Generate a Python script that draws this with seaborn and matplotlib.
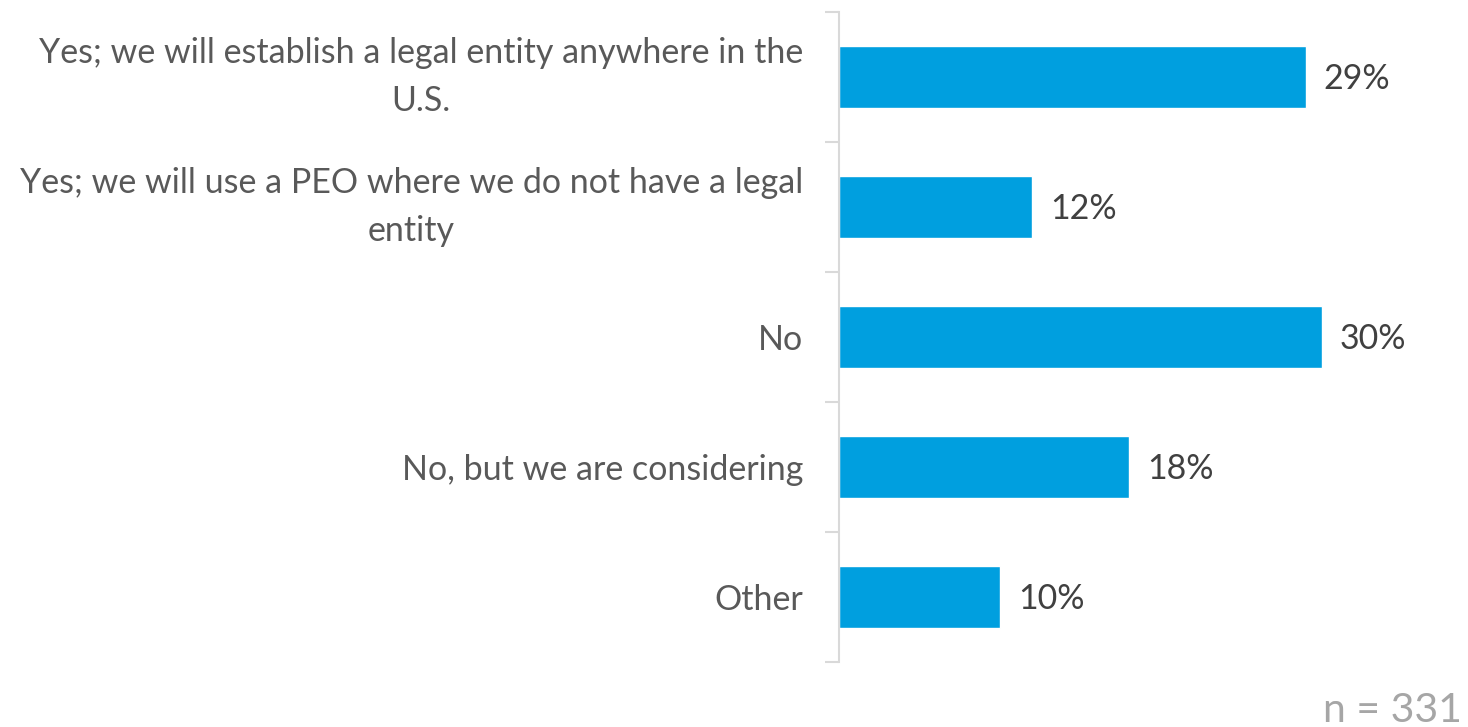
import matplotlib
matplotlib.use("Agg")
import matplotlib.pyplot as plt
import matplotlib.transforms as mtransforms
import seaborn as sns
import pandas as pd

categories = [
    "Yes; we will establish a legal entity anywhere in the\nU.S.",
    "Yes; we will use a PEO where we do not have a legal\nentity",
    "No",
    "No, but we are considering",
    "Other",
]
values = [29, 12, 30, 18, 10]
value_labels = ["29%", "12%", "30%", "18%", "10%"]
sample_note = "n = 331"

df = pd.DataFrame({"answer": categories, "share": values})

sns.set_theme(style="white")
plt.rcParams["font.family"] = ["Lato", "DejaVu Sans"]

W, H = 1468, 727
fig = plt.figure(figsize=(W / 100, H / 100), dpi=100)
ax = fig.add_axes([839 / W, 1 - 662 / H, (W - 839) / W, 650 / H])

sns.barplot(data=df, x="share", y="answer", color="#009FDF", saturation=1,
            width=0.47, ax=ax, orient="h")

ax.set_xlim(0, (W - 840) / 16.07)
ax.set_ylim(len(categories) - 0.5, -0.5)
ax.set_xlabel("")
ax.set_ylabel("")
ax.set_xticks([])

for s in ["top", "right", "bottom"]:
    ax.spines[s].set_visible(False)
ax.spines["left"].set_color("#D9D9D9")
ax.spines["left"].set_linewidth(1.5)

# category labels: right-aligned block, wrapped lines centred within it
ax.set_yticks(range(len(categories)))
ax.set_yticklabels(categories, fontsize=24.5, color="#595959",
                   ha="right", multialignment="center", linespacing=1.58)
nudge = mtransforms.ScaledTranslation(0, -3 / 100, fig.dpi_scale_trans)
for lab in ax.get_yticklabels():
    if "\n" in lab.get_text():
        lab.set_va("center")
        lab.set_transform(lab.get_transform() + nudge)
ax.tick_params(axis="y", which="major", length=0, pad=26)

# short separator ticks between the categories
ax.set_yticks([i - 0.5 for i in range(len(categories) + 1)], minor=True)
ax.tick_params(axis="y", which="minor", length=10, width=1.5,
               color="#D9D9D9", left=True)

for i, (v, t) in enumerate(zip(values, value_labels)):
    ax.annotate(t, xy=(v, i), xytext=(18, -2), textcoords="offset pixels",
                va="center", ha="left", fontsize=24.5, color="#404040")

fig.text(1462 / W, 1 - 722 / H, sample_note, ha="right", va="baseline",
         fontsize=29.5, color="#A6A6A6")

fig.savefig("out.png", dpi=100)
